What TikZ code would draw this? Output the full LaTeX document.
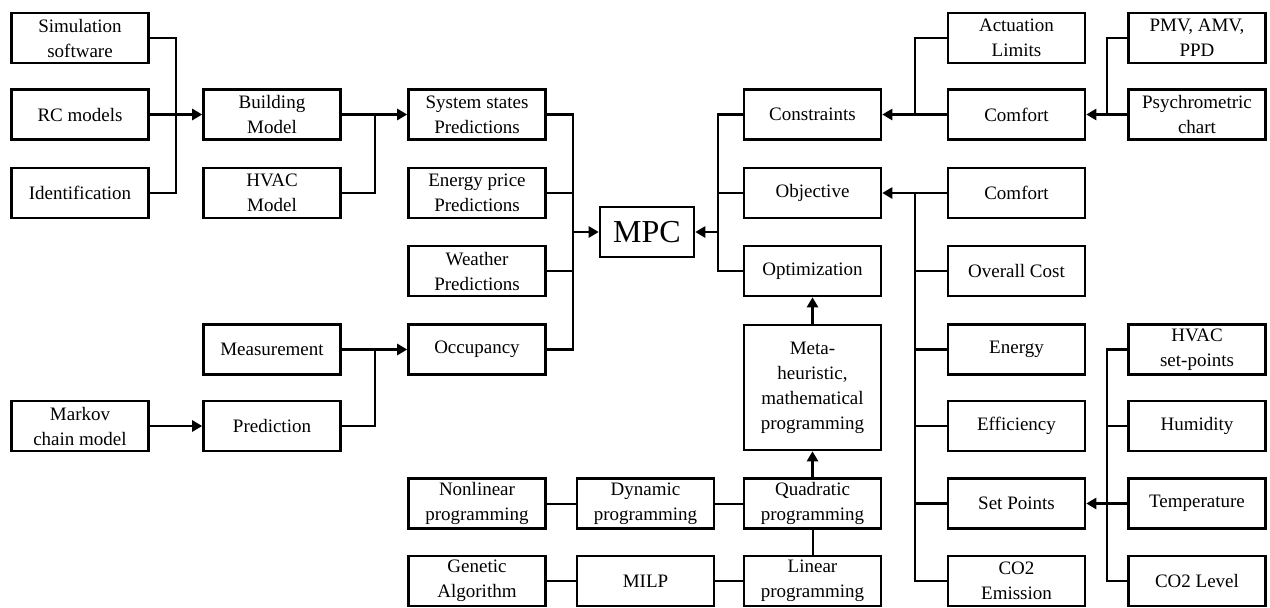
\documentclass[tikz,border=0pt]{standalone}
\usepackage{fontspec}
\setmainfont{Liberation Serif}
\usetikzlibrary{arrows.meta}
\begin{document}
\begin{tikzpicture}[x=1pt,y=-1pt,
  box/.style={draw, line width=2.6pt, minimum width=137pt, minimum height=50pt,
    inner sep=0pt, align=center, font=\fontsize{19}{25}\selectfont},
  conn/.style={line width=2.4pt},
  thin conn/.style={line width=2pt},
  arr/.style={line width=2.8pt, -{Triangle[length=10pt,width=11pt]}},
  every node/.append style={text=black}]
\useasboundingbox (0,0) rectangle (1270,608);
% column A
\node[box] (sim) at (80,38) {Simulation\\software};
\node[box] (rc) at (80,114.5) {RC models};
\node[box] (ident) at (80,193) {Identification};
\node[box] (markov) at (80,426) {Markov\\chain model};
% column B
\node[box] (build) at (272,114.5) {Building\\Model};
\node[box] (hvacm) at (272,193) {HVAC\\Model};
\node[box] (meas) at (272,349.5) {Measurement};
\node[box] (pred) at (272,426) {Prediction};
% column C
\node[box] (sys) at (477,114.5) {System states\\Predictions};
\node[box] (price) at (477,193) {Energy price\\Predictions};
\node[box] (weather) at (477,271) {Weather\\Predictions};
\node[box] (occ) at (477,349.5) {Occupancy};
\node[box] (nonlin) at (477,503.5) {Nonlinear\\programming};
\node[box] (genetic) at (477,581) {Genetic\\Algorithm};
% middle
\node[box, minimum width=94pt, minimum height=50pt, font=\fontsize{32}{36}\selectfont] (mpc) at (647,232) {MPC};
\node[box] (dyn) at (645.5,503.5) {Dynamic\\programming};
\node[box] (milp) at (645.5,581) {MILP};
% column D
\node[box] (cons) at (812.5,114.5) {Constraints};
\node[box] (obj) at (812.5,193) {Objective};
\node[box] (opt) at (812.5,271) {Optimization};
\node[box, minimum height=125pt] (meta) at (812.5,387.5) {Meta-\\heuristic,\\mathematical\\programming};
\node[box] (quad) at (812.5,503.5) {Quadratic\\programming};
\node[box] (lin) at (812.5,581) {Linear\\programming};
% column E
\node[box] (act) at (1016.5,38) {Actuation\\Limits};
\node[box] (comfc) at (1016.5,114.5) {Comfort};
\node[box] (comfo) at (1016.5,193) {Comfort};
\node[box] (cost) at (1016.5,271) {Overall Cost};
\node[box] (energy) at (1016.5,349.5) {Energy};
\node[box] (eff) at (1016.5,426) {Efficiency};
\node[box] (setp) at (1016.5,503.5) {Set Points};
\node[box] (co2e) at (1016.5,581) {CO2\\Emission};
% column F
\node[box] (pmv) at (1197,38) {PMV, AMV,\\PPD};
\node[box] (psy) at (1197,114.5) {Psychrometric\\chart};
\node[box] (hvacsp) at (1197,349.5) {HVAC\\set-points};
\node[box] (hum) at (1197,426) {Humidity};
\node[box] (temp) at (1197,503.5) {Temperature};
\node[box] (co2l) at (1197,581) {CO2 Level};
% junctions
\coordinate (j1) at (176,114.5);
\coordinate (j2) at (375,114.5);
\coordinate (j3) at (375,349.5);
\coordinate (j4) at (573,232);
\coordinate (j5) at (718,232);
\coordinate (j6) at (915,114.5);
\coordinate (j7) at (1107,114.5);
\coordinate (j8) at (1107,503.5);
\coordinate (j9) at (915,193);
% left inputs
\draw[conn] (sim.east) -| (j1) |- (ident.east);
\draw[arr] (rc.east) -- (build.west);
\draw[conn] (hvacm.east) -| (j2);
\draw[arr] (build.east) -- (sys.west);
\draw[conn] (pred.east) -| (j3);
\draw[arr] (meas.east) -- (occ.west);
\draw[arr] (markov.east) -- (pred.west);
% into MPC from left
\draw[conn] (sys.east) -| (j4) |- (occ.east);
\draw[conn] (price.east) -- (price.east -| j4);
\draw[conn] (weather.east) -- (weather.east -| j4);
\draw[arr] (j4) -- (mpc.west);
% into MPC from right
\draw[conn] (cons.west) -| (j5) |- (opt.west);
\draw[conn] (obj.west) -- (obj.west -| j5);
\draw[arr] (j5) -- (mpc.east);
% constraints
\draw[conn] (act.west) -| (j6);
\draw[arr] (comfc.west) -- (cons.east);
\draw[conn] (pmv.west) -| (j7);
\draw[arr] (psy.west) -- (comfc.east);
% objective
\draw[arr] (comfo.west) -- (obj.east);
\draw[conn] (j9) |- (co2e.west);
\draw[conn] (cost.west) -- (cost.west -| j9);
\draw[conn] (energy.west) -- (energy.west -| j9);
\draw[conn] (eff.west) -- (eff.west -| j9);
\draw[conn] (setp.west) -- (setp.west -| j9);
% set points
\draw[conn] (hvacsp.west) -| (j8) |- (co2l.west);
\draw[conn] (hum.west) -- (hum.west -| j8);
\draw[arr] (temp.west) -- (setp.east);
% optimization
\draw[arr] (meta.north) -- (opt.south);
\draw[arr] (quad.north) -- (meta.south);
\draw[thin conn] (quad.south) -- (lin.north);
\draw[thin conn] (nonlin.east) -- (dyn.west);
\draw[thin conn] (dyn.east) -- (quad.west);
\draw[thin conn] (genetic.east) -- (milp.west);
\draw[thin conn] (milp.east) -- (lin.west);
\end{tikzpicture}
\end{document}
